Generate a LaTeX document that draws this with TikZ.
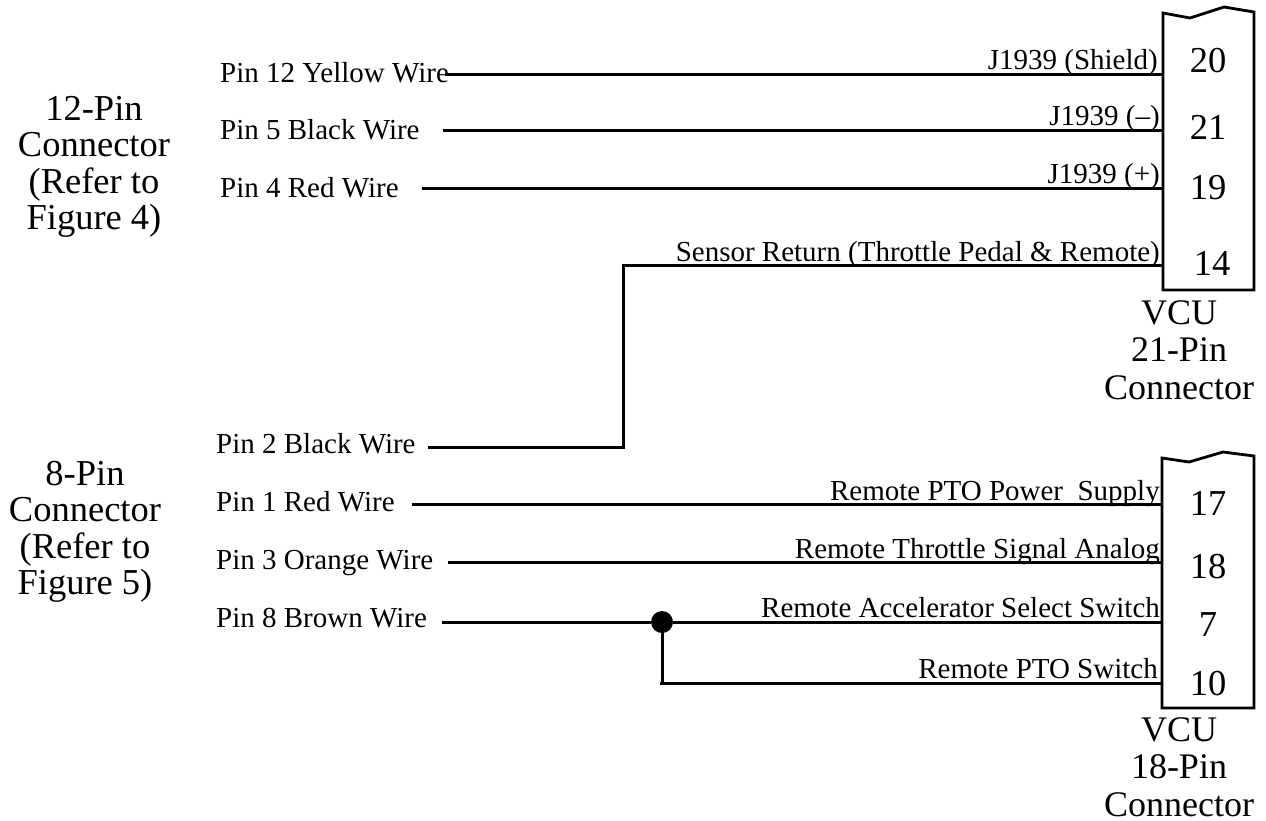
\documentclass[tikz,border=0pt]{standalone}
\usepackage{fontspec}
\setmainfont{Liberation Serif}
\tikzset{
  wire/.style={line width=3pt,line cap=butt},
  conn/.style={line width=2.8pt,line join=miter},
  pinlab/.style={inner sep=0pt,anchor=base west,font=\fontsize{29}{32}\selectfont},
  siglab/.style={inner sep=0pt,anchor=base east,font=\fontsize{29}{32}\selectfont},
  num/.style={inner sep=0pt,anchor=base,font=\fontsize{36.5}{40}\selectfont},
  big/.style={inner sep=0pt,align=center,anchor=north,font=\fontsize{36.5}{36.5}\selectfont},
  bigv/.style={big,font=\fontsize{36}{37.5}\selectfont}
}
\begin{document}
\begin{tikzpicture}[x=1pt,y=-1pt]
\useasboundingbox (0,0) rectangle (1266,820);
% connector bodies
\draw[conn] (1163,290) -- (1163,13) -- (1190,18) -- (1224,7) -- (1254,12) -- (1254,290) -- cycle;
\draw[conn] (1162,708) -- (1162,458) -- (1189,462) -- (1223,452) -- (1254,456) -- (1254,708) -- cycle;
% wire ends
\coordinate (a1) at (445,74); \coordinate (b1) at (1162,74);
\coordinate (a2) at (443,130); \coordinate (b2) at (1162,130);
\coordinate (a3) at (422,188); \coordinate (b3) at (1162,188);
\coordinate (a4) at (428,447); \coordinate (k4) at (623,447); \coordinate (k4b) at (623,265); \coordinate (b4) at (1162,265);
\coordinate (a5) at (412,504); \coordinate (b5) at (1162,504);
\coordinate (a6) at (448,562); \coordinate (b6) at (1162,562);
\coordinate (a7) at (442,622); \coordinate (b7) at (1162,622);
\coordinate (k8) at (660,683); \coordinate (b8) at (1162,683);
\node[circle,fill=black,inner sep=0pt,minimum size=22pt] (dot) at (662,622) {};
\draw[wire] (a1) -- (b1);
\draw[wire] (a2) -- (b2);
\draw[wire] (a3) -- (b3);
\draw[wire] (a4) -- (k4) -- (k4b) -- (b4);
\draw[wire] (a5) -- (b5);
\draw[wire] (a6) -- (b6);
\draw[wire] (a7) -- (dot);
\draw[wire] (dot) -- (b7);
\draw[wire] (dot.center) -- (dot.center |- k8);
\draw[wire] (k8) -- (b8);
% left pin labels
\node[pinlab] (p1) at (220,82) {Pin 12 Yellow Wire};
\node[pinlab] (p2) at (220,139) {Pin 5 Black Wire};
\node[pinlab] (p3) at (220,197) {Pin 4 Red Wire};
\node[pinlab] (p4) at (216,453) {Pin 2 Black Wire};
\node[pinlab] (p5) at (216,511) {Pin 1 Red Wire};
\node[pinlab] (p6) at (216,569) {Pin 3 Orange Wire};
\node[pinlab] (p7) at (216,627) {Pin 8 Brown Wire};
% signal labels
\node[siglab] (s1) at (1158,69) {J1939 (Shield)};
\node[siglab] (s2) at (1160,125) {J1939 (–)};
\node[siglab] (s3) at (1160,183) {J1939 (+)};
\node[siglab] (s4) at (1160,261) {Sensor Return (Throttle Pedal \& Remote)};
\node[siglab] (s5) at (1160,500) {Remote PTO Power\ \ Supply};
\node[siglab] (s6) at (1160,558) {Remote Throttle Signal Analog};
\node[siglab] (s7) at (1160,617) {Remote Accelerator Select Switch};
\node[siglab] (s8) at (1158,678) {Remote PTO Switch};
% pin numbers
\node[num] (n20) at (1208,72) {20};
\node[num] (n21) at (1208,139) {21};
\node[num] (n19) at (1208,199) {19};
\node[num] (n14) at (1212,275) {14};
\node[num] (n17) at (1208,515) {17};
\node[num] (n18) at (1208,578) {18};
\node[num] (n7) at (1208,636) {7};
\node[num] (n10) at (1208,695) {10};
% group labels
\node[big] (g1) at (94,96) {12-Pin\\Connector\\(Refer to\\Figure 4)};
\node[big] (g2) at (85,461) {8-Pin\\Connector\\(Refer to\\Figure 5)};
\node[bigv] (v1) at (1179,300) {VCU\\21-Pin\\Connector};
\node[bigv] (v2) at (1179,717) {VCU\\18-Pin\\Connector};
\end{tikzpicture}
\end{document}
